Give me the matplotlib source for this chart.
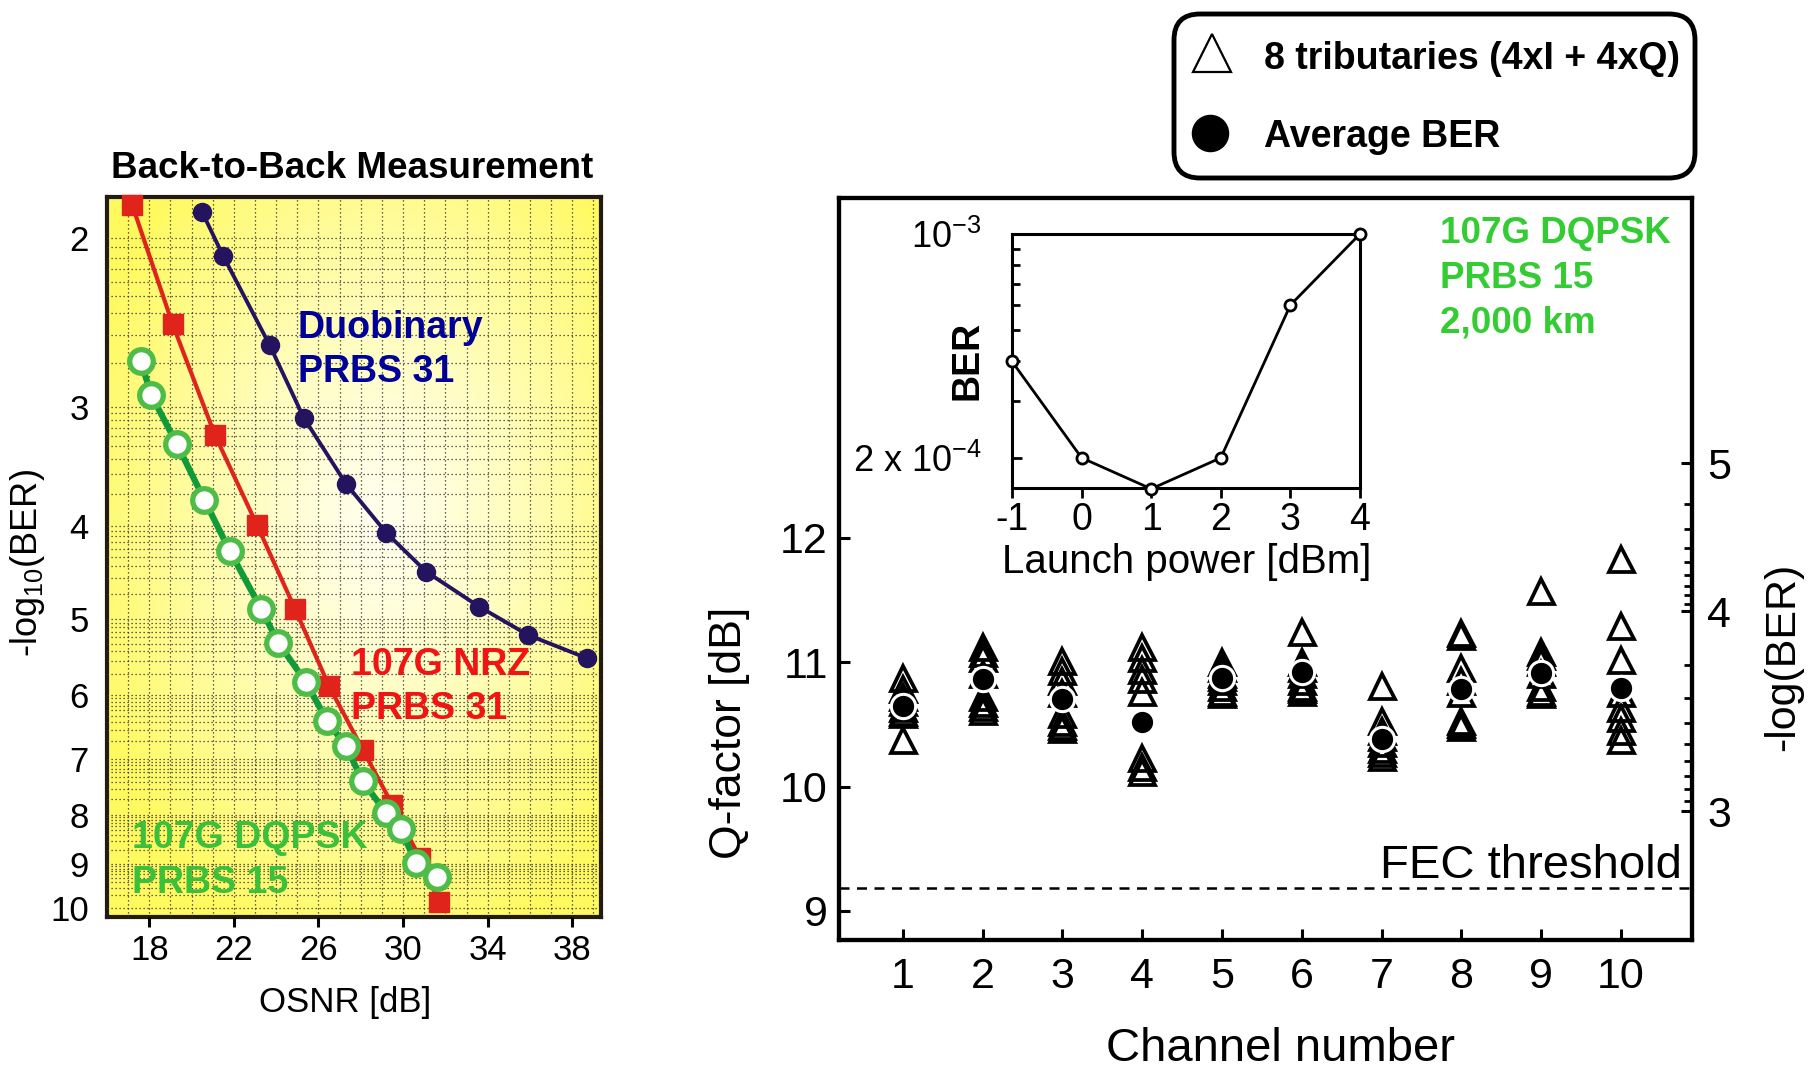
import math
import numpy as np
import matplotlib
matplotlib.use("Agg")
import matplotlib.pyplot as plt
from matplotlib.patches import FancyBboxPatch
from matplotlib.ticker import FixedLocator, NullFormatter

plt.rcParams['font.family'] = ['Liberation Sans', 'DejaVu Sans']
plt.rcParams['mathtext.default'] = 'regular'
plt.rcParams['axes.unicode_minus'] = False

# ---- left panel: back-to-back, -log10(BER) vs OSNR ----
nrz_osnr = [17.2, 19.1, 21.1, 23.1, 24.9, 26.5, 28.1, 29.5, 30.8, 31.7]
nrz_nlog = [1.85, 2.46, 3.21, 3.99, 4.88, 5.87, 6.84, 7.81, 8.87, 9.85]
duo_osnr = [20.5, 21.5, 23.7, 25.3, 27.3, 29.2, 31.1, 33.6, 35.9, 38.7]
duo_nlog = [1.88, 2.09, 2.59, 3.08, 3.61, 4.06, 4.46, 4.85, 5.19, 5.49]
dq_osnr = [17.6, 18.1, 19.3, 20.6, 21.8, 23.3, 24.1, 25.4, 26.4, 27.3, 28.1, 29.2, 29.9, 30.6, 31.6]
dq_nlog = [2.69, 2.92, 3.28, 3.75, 4.24, 4.88, 5.29, 5.81, 6.38, 6.78, 7.38, 7.96, 8.28, 8.97, 9.28]
b2b_yticks = [2, 3, 4, 5, 6, 7, 8, 9, 10]
b2b_xticks = [18, 22, 26, 30, 34, 38]

# ---- right panel: Q-factor per channel after 2,000 km ----
channels = [1, 2, 3, 4, 5, 6, 7, 8, 9, 10]
trib_q = [
    [10.87, 10.78, 10.72, 10.68, 10.63, 10.60, 10.58, 10.37],
    [11.12, 11.07, 11.03, 10.90, 10.72, 10.67, 10.64, 10.61],
    [11.01, 10.93, 10.85, 10.75, 10.58, 10.52, 10.49, 10.46],
    [11.12, 11.03, 10.94, 10.86, 10.76, 10.23, 10.16, 10.12],
    [11.00, 10.95, 10.90, 10.88, 10.85, 10.80, 10.76, 10.74],
    [11.24, 11.00, 10.95, 10.90, 10.85, 10.80, 10.78, 10.76],
    [10.81, 10.53, 10.45, 10.40, 10.35, 10.30, 10.27, 10.24],
    [11.23, 11.21, 10.95, 10.85, 10.75, 10.53, 10.50, 10.48],
    [11.57, 11.08, 11.05, 11.00, 10.90, 10.80, 10.76, 10.74],
    [11.83, 11.29, 11.02, 10.75, 10.63, 10.55, 10.45, 10.37],
]
avg_q = [10.65, 10.86, 10.70, 10.52, 10.87, 10.92, 10.38, 10.78, 10.91, 10.79]
q_ticks = [9, 10, 11, 12]
fec_ber = 2e-3
right_ber_exp = [3, 4, 5]

# ---- inset: BER vs launch power ----
launch_dbm = [-1, 0, 1, 2, 3, 4]
launch_ber = [4.0e-4, 2.0e-4, 1.6e-4, 2.0e-4, 6.0e-4, 1.0e-3]

W, H = 1809, 1068


def box(x0, y0, x1, y1):
    return [x0 / W, 1 - y1 / H, (x1 - x0) / W, (y1 - y0) / H]


def fx(x, y):
    return x / W, 1 - y / H


def q_db(ber):
    # Q (in dB) from BER = 0.5 erfc(Q / sqrt(2))
    lo, hi = 0.0, 12.0
    for _ in range(80):
        mid = 0.5 * (lo + hi)
        if 0.5 * math.erfc(mid / math.sqrt(2)) > ber:
            lo = mid
        else:
            hi = mid
    return 20 * math.log10(0.5 * (lo + hi))


fig = plt.figure(figsize=(W / 100, H / 100), dpi=100)

# ================= left panel =================
ax1 = fig.add_axes(box(107, 197, 601, 917))
ax1.set_yscale('log')
ax1.set_xlim(16, 39.36)
ax1.set_ylim(10.22, 1.813)

# yellow radial background
gx, gy = np.meshgrid(np.linspace(0, 1, 300), np.linspace(0, 1, 400))
r = np.sqrt(((gx - 0.55) / 0.62) ** 2 + ((gy - 0.55) / 0.62) ** 2)
t = np.clip(r, 0, 1) ** 1.3
c_in = np.array([1.0, 1.0, 0.93])
c_out = np.array([1.0, 0.98, 0.38])
img = c_in[None, None, :] * (1 - t[..., None]) + c_out[None, None, :] * t[..., None]
ax1.imshow(img, extent=[0, 1, 0, 1], transform=ax1.transAxes, origin='lower',
           aspect='auto', zorder=0)

ax1.set_yticks(b2b_yticks)
ax1.set_yticklabels([str(v) for v in b2b_yticks])
minor_y = [-math.log10(m * 10.0 ** -k) for k in range(2, 11) for m in range(2, 10)]
ax1.yaxis.set_minor_locator(FixedLocator(minor_y))
ax1.yaxis.set_minor_formatter(NullFormatter())
ax1.set_xticks(b2b_xticks)
ax1.xaxis.set_minor_locator(FixedLocator(np.arange(17, 40, 1)))
ax1.tick_params(axis='y', which='both', length=0, pad=13, labelsize=25)
ax1.tick_params(axis='x', which='major', length=7, width=2.2, direction='out',
                pad=5, labelsize=25)
ax1.tick_params(axis='x', which='minor', length=0)
ax1.grid(True, which='both', axis='both', color='#303030', lw=0.9,
         ls=(0, (1, 2.2)), zorder=1)
ax1.set_axisbelow(False)
for s in ax1.spines.values():
    s.set_linewidth(3)
    s.set_color('#231a10')

ax1.plot(duo_osnr, duo_nlog, '-o', color='#24135f', lw=2.8, ms=13, zorder=3)
ax1.plot(nrz_osnr, nrz_nlog, '-s', color='#e0231b', lw=3, ms=14, zorder=4,
         clip_on=False)
ax1.plot(dq_osnr, dq_nlog, '-o', color='#109a38', lw=4.5, ms=17, mfc='white',
         mec='#4dbd48', mew=3.8, zorder=5)

fig.text(*fx(352, 178), 'Back-to-Back Measurement', ha='center', va='baseline',
         fontsize=26.5, fontweight='bold')
fig.text(*fx(298, 338), 'Duobinary', color='#000099', fontsize=27,
         fontweight='bold', va='baseline')
fig.text(*fx(298, 382), 'PRBS 31', color='#000099', fontsize=27,
         fontweight='bold', va='baseline')
fig.text(*fx(351, 675), '107G NRZ', color='#f01414', fontsize=27,
         fontweight='bold', va='baseline')
fig.text(*fx(351, 719), 'PRBS 31', color='#f01414', fontsize=27,
         fontweight='bold', va='baseline')
fig.text(*fx(132, 848), '107G DQPSK', color='#3cc03c', fontsize=27,
         fontweight='bold', va='baseline')
fig.text(*fx(132, 893), 'PRBS 15', color='#3cc03c', fontsize=27,
         fontweight='bold', va='baseline')
fig.text(*fx(345, 1012), 'OSNR [dB]', ha='center', va='baseline', fontsize=25)
fig.text(*fx(28, 563), '-log$_{10}$(BER)', rotation=90, ha='center',
         va='center', fontsize=26)

# ================= right panel =================
ax = fig.add_axes(box(839, 198, 1692, 940))
ax.set_xlim(0.2, 10.89)
ax.set_ylim(8.767, 14.728)
for ch, vals in zip(channels, trib_q):
    ax.plot([ch] * len(vals), vals, '^', ms=18, mfc='none', mec='black',
            mew=2.7, zorder=3)
ax.plot(channels, avg_q, 'o', ms=17.5, mfc='black', mec='white', mew=2.2,
        zorder=4)
ax.axhline(q_db(fec_ber), color='black', lw=1.8, ls=(0, (4, 3)), zorder=2)

ax.set_xticks(channels)
ax.set_yticks(q_ticks)
ax.tick_params(axis='both', direction='in', length=8, width=2.2, labelsize=31)
ax.tick_params(axis='x', pad=12)
ax.tick_params(axis='y', pad=8)
for s in ax.spines.values():
    s.set_linewidth(3)

ax2 = ax.twinx()
ax2.set_ylim(ax.get_ylim())
ax2.set_yticks([q_db(10.0 ** -k) for k in right_ber_exp])
ax2.set_yticklabels([str(k) for k in right_ber_exp])
ax2.yaxis.set_minor_locator(FixedLocator(
    [q_db(m * 10.0 ** -k) for k in (4, 5) for m in range(2, 10)]))
ax2.yaxis.set_minor_formatter(NullFormatter())
ax2.tick_params(axis='y', which='major', direction='in', length=8, width=2.2,
                labelsize=31, pad=11)
ax2.tick_params(axis='y', which='minor', direction='in', length=6, width=2)
for s in ax2.spines.values():
    s.set_linewidth(3)

fig.text(*fx(1682, 878), 'FEC threshold', ha='right', va='baseline',
         fontsize=34)
fig.text(*fx(1280, 1061), 'Channel number', ha='center', va='baseline',
         fontsize=34)
fig.text(*fx(730, 733), 'Q-factor [dB]', rotation=90, ha='center', va='center',
         fontsize=32)
fig.text(*fx(1783, 657), '-log(BER)', rotation=90, ha='center', va='center',
         fontsize=31)
for i, line in enumerate(['107G DQPSK', 'PRBS 15', '2,000 km']):
    fig.text(*fx(1440, 243 + 45 * i), line, color='#33cc33', fontsize=26.5,
             fontweight='bold', va='baseline')

# ================= inset =================
axi = fig.add_axes(box(1012, 234, 1360, 488))
axi.set_yscale('log')
axi.set_xlim(-1, 4)
axi.set_ylim(1.61e-4, 1e-3)
axi.plot(launch_dbm, launch_ber, '-o', color='black', lw=2, ms=8,
         mfc='white', mec='black', mew=2, clip_on=False, zorder=3)
axi.set_yticks([2e-4, 1e-3])
axi.set_yticklabels(['2 x $10^{-4}$', '$10^{-3}$'])
axi.yaxis.set_minor_locator(FixedLocator([m * 1e-4 for m in range(3, 10)]))
axi.yaxis.set_minor_formatter(NullFormatter())
axi.set_xticks(launch_dbm)
axi.tick_params(axis='y', which='major', direction='in', length=7, width=2,
                labelsize=26, pad=22)
axi.tick_params(axis='y', which='minor', direction='in', length=6, width=2)
axi.tick_params(axis='x', direction='out', length=7, width=2, labelsize=27,
                pad=3)
for s in axi.spines.values():
    s.set_linewidth(2.2)
fig.text(*fx(1187, 573), 'Launch power [dBm]', ha='center', va='baseline',
         fontsize=29)
fig.text(*fx(967, 360), 'BER', rotation=90, ha='center', va='center',
         fontsize=27, fontweight='bold')

# ================= legend box =================
axl = fig.add_axes(box(1171, 11, 1698, 181))
axl.set_xlim(0, 527)
axl.set_ylim(170, 0)
axl.axis('off')
axl.add_patch(FancyBboxPatch((3, 3), 521, 164,
                             boxstyle='round,pad=0,rounding_size=26',
                             fc='white', ec='black', lw=3.5, clip_on=False))
axl.plot([41], [42], '^', ms=28, mfc='white', mec='black', mew=1.6)
axl.plot([39], [122], 'o', ms=26, color='black')
axl.text(93, 58, '8 tributaries (4xI + 4xQ)', fontsize=27, fontweight='bold',
         va='baseline')
axl.text(93, 136, 'Average BER', fontsize=27, fontweight='bold',
         va='baseline')

fig.savefig('out.png', dpi=100)
